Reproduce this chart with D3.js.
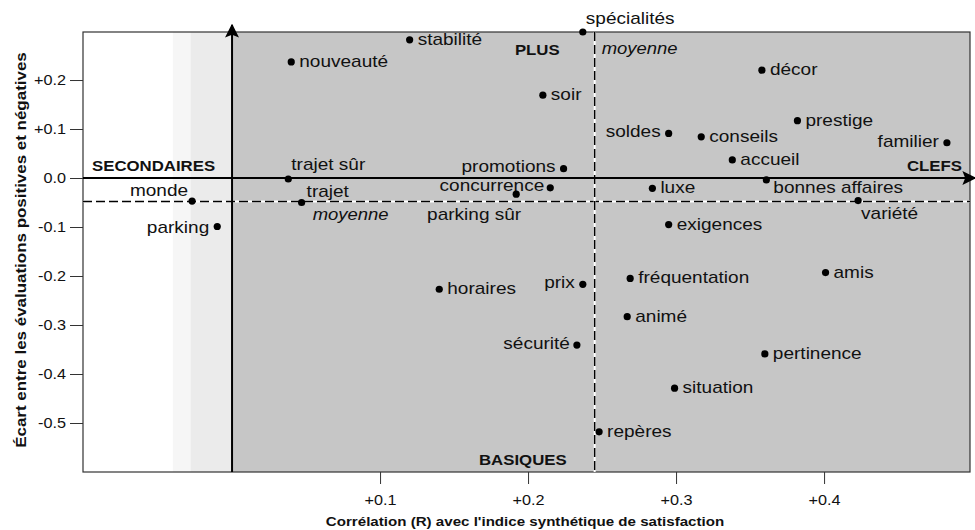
<!DOCTYPE html>
<html>
<head>
<meta charset="utf-8">
<script src="https://cdn.jsdelivr.net/npm/d3@7"></script>
<style>
  body { margin: 0; background: #fff; }
  svg { font-family: "Liberation Sans", Arial, sans-serif; }
  .lbl { font-size: 17px; fill: #111; }
  .quad { font-size: 15px; font-weight: bold; fill: #111; }
  .mean { font-size: 16.5px; font-style: italic; fill: #111; }
  .title { font-size: 13.5px; font-weight: bold; fill: #111; }
  .axis text { font-size: 14.5px; fill: #111; font-family: "Liberation Sans", Arial, sans-serif; }
  .axis line { stroke: #333; }
</style>
</head>
<body>
<div id="chart"></div>
<script>
// attributes
const names = ['nouveauté', 'stabilité', 'spécialités', 'soir', 'promotions', 'concurrence',
  'parking sûr', 'trajet sûr', 'trajet', 'monde', 'parking', 'soldes', 'conseils', 'décor',
  'prestige', 'familier', 'accueil', 'luxe', 'bonnes affaires', 'variété', 'exigences', 'amis',
  'fréquentation', 'animé', 'pertinence', 'situation', 'repères', 'horaires', 'prix', 'sécurité'];

// correlation (R) with the satisfaction index
const correlation = [0.040, 0.120, 0.237, 0.210, 0.224, 0.215,
  0.192, 0.038, 0.047, -0.027, -0.010, 0.295, 0.317, 0.358,
  0.382, 0.483, 0.338, 0.284, 0.361, 0.423, 0.295, 0.401,
  0.269, 0.267, 0.360, 0.299, 0.248, 0.140, 0.237, 0.233];

// gap between positive and negative evaluations
const gap = [0.237, 0.282, 0.298, 0.169, 0.019, -0.020,
  -0.033, -0.002, -0.050, -0.047, -0.099, 0.091, 0.084, 0.220,
  0.117, 0.072, 0.037, -0.021, -0.004, -0.046, -0.095, -0.193,
  -0.205, -0.283, -0.359, -0.429, -0.518, -0.227, -0.217, -0.341];

const xTicks = [0.1, 0.2, 0.3, 0.4];
const yTicks = [-0.5, -0.4, -0.3, -0.2, -0.1, 0.0, 0.1, 0.2];
const meanCorrelation = 0.245;
const meanGap = -0.048;

// label placement: [dx, dy, anchor]
const labelPos = {
  'spécialités': [3, -8, 'start'], 'promotions': [-8, 3, 'end'], 'concurrence': [-6, 3, 'end'],
  'parking sûr': [5, 26, 'end'], 'trajet sûr': [3, -9, 'start'], 'trajet': [5, -6, 'start'],
  'monde': [-4, -5, 'end'], 'parking': [-8, 6, 'end'], 'soldes': [-8, 4, 'end'],
  'familier': [-8, 4, 'end'], 'bonnes affaires': [7, 13, 'start'], 'variété': [3, 18, 'start'],
  'prix': [-8, 4, 'end'], 'sécurité': [-7, 4, 'end']
};
const stretch = 'scale(1.12,1)';
const fmt = d => (d > 0 ? '+' : '') + d3.format('.1f')(d).replace('−', '-');

const width = 975, height = 530;
const x = d3.scaleLinear().domain([-0.1007, 0.4986]).range([83, 970]);
const y = d3.scaleLinear().domain([-0.6, 0.298]).range([472, 32]);

const svg = d3.select('#chart').append('svg')
  .attr('width', width).attr('height', height);

const [x0, x1] = x.range();
const [y0, y1] = y.range();

svg.append('defs').append('marker').attr('id', 'arrow')
  .attr('viewBox', '0 0 10 10').attr('refX', 9).attr('refY', 5)
  .attr('markerWidth', 14).attr('markerHeight', 14).attr('markerUnits', 'userSpaceOnUse')
  .attr('orient', 'auto')
  .append('path').attr('d', 'M0,0 L10,5 L0,10 L2,5 Z').attr('fill', '#000');

// background zones: left is white, light grey bands near the axis
svg.append('rect').attr('x', x0).attr('y', y1).attr('width', x(0) - x0).attr('height', y0 - y1)
  .attr('fill', '#ffffff');
svg.append('rect').attr('x', x(-0.04)).attr('y', y1).attr('width', x(-0.028) - x(-0.04)).attr('height', y0 - y1)
  .attr('fill', '#f6f6f6');
svg.append('rect').attr('x', x(-0.028)).attr('y', y1).attr('width', x(0) - x(-0.028)).attr('height', y0 - y1)
  .attr('fill', '#ebebeb');
svg.append('rect').attr('x', x(0)).attr('y', y1).attr('width', x1 - x(0)).attr('height', y0 - y1)
  .attr('fill', '#c6c6c6');
svg.append('rect').attr('x', x0).attr('y', y1).attr('width', x1 - x0).attr('height', y0 - y1)
  .attr('fill', 'none').attr('stroke', '#333').attr('stroke-width', 1.2);

// axes
const yAxis = d3.axisLeft(y).tickValues(yTicks).tickSize(13).tickPadding(4).tickFormat(fmt);
const gy = svg.append('g').attr('class', 'axis').attr('transform', `translate(${x0},0)`).call(yAxis);
gy.select('.domain').remove();
gy.selectAll('text').attr('transform', stretch).attr('x', -17 / 1.12);

const xAxis = d3.axisBottom(x).tickValues(xTicks).tickSize(12).tickPadding(11).tickFormat(fmt);
const gx = svg.append('g').attr('class', 'axis').attr('transform', `translate(0,${y0})`).call(xAxis);
gx.select('.domain').remove();
gx.selectAll('text').attr('transform', stretch);

// mean lines (white under black dashes)
function meanLine(xa, ya, xb, yb) {
  svg.append('line').attr('x1', xa).attr('y1', ya).attr('x2', xb).attr('y2', yb)
    .attr('stroke', '#fff').attr('stroke-width', 2);
  svg.append('line').attr('x1', xa).attr('y1', ya).attr('x2', xb).attr('y2', yb)
    .attr('stroke', '#000').attr('stroke-width', 1.5).attr('stroke-dasharray', '9,4');
}
meanLine(x0, y(meanGap), x1, y(meanGap));
meanLine(x(meanCorrelation), y1, x(meanCorrelation), y0);

// main axes with arrows
svg.append('line').attr('x1', x0).attr('y1', y(0)).attr('x2', 975).attr('y2', y(0))
  .attr('stroke', '#000').attr('stroke-width', 2).attr('marker-end', 'url(#arrow)');
svg.append('line').attr('x1', x(0)).attr('y1', y0).attr('x2', x(0)).attr('y2', 25)
  .attr('stroke', '#000').attr('stroke-width', 2).attr('marker-end', 'url(#arrow)');

function addText(tx, ty, str, cls, anchor) {
  return svg.append('text').attr('class', cls)
    .attr('transform', `translate(${tx},${ty}) ${stretch}`)
    .attr('text-anchor', anchor || 'start').text(str);
}

// quadrant names
addText(x0 + 9, y(0) - 7, 'SECONDAIRES', 'quad');
addText(x(meanCorrelation) - 35, y1 + 23, 'PLUS', 'quad', 'end');
addText(x1 - 8, y(0) - 7, 'CLEFS', 'quad', 'end');
addText(x(meanCorrelation) - 28, y0 - 7, 'BASIQUES', 'quad', 'end');

// mean labels
addText(x(meanCorrelation) + 7, y1 + 22, 'moyenne', 'mean');
addText(x(0.047) + 49, y(meanGap) + 18, 'moyenne', 'mean', 'middle');

// points and labels
names.forEach((n, i) => {
  svg.append('circle').attr('cx', x(correlation[i])).attr('cy', y(gap[i]))
    .attr('r', 3.6).attr('fill', '#000');
  const p = labelPos[n] || [8, 5, 'start'];
  addText(x(correlation[i]) + p[0], y(gap[i]) + p[1], n, 'lbl', p[2]);
});

// axis titles
addText(525, 526, "Corrélation (R) avec l'indice synthétique de satisfaction", 'title', 'middle');
svg.append('text').attr('class', 'title')
  .attr('transform', `translate(26,${(y0 + y1) / 2 - 2}) rotate(-90) scale(1.13,1)`)
  .attr('text-anchor', 'middle').style('font-size', '15px')
  .text('Écart entre les évaluations positives et négatives');
</script>
</body>
</html>
